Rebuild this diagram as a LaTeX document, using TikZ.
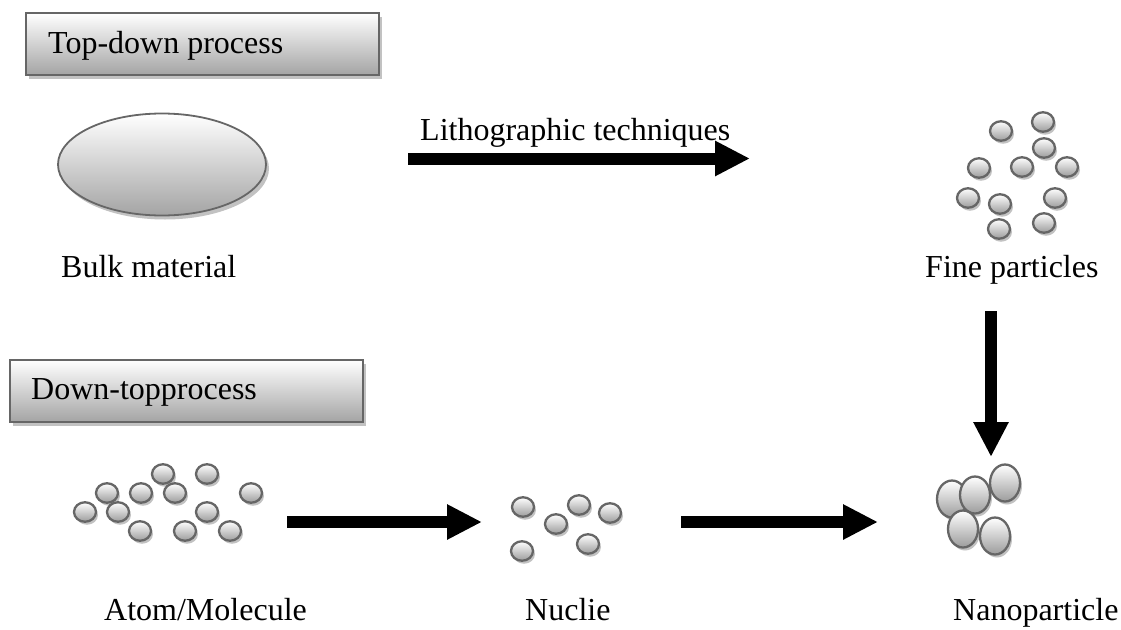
\documentclass[tikz,border=0pt]{standalone}
\usepackage{fontspec}
\setmainfont{Liberation Serif}
\usetikzlibrary{shapes.geometric,shadows,arrows.meta}
\definecolor{edgegray}{HTML}{666666}
\definecolor{shadowgray}{HTML}{C2C2C2}
\definecolor{lowgray}{HTML}{A4A4A4}
\definecolor{dotgray}{HTML}{9C9C9C}
\begin{document}
\begin{tikzpicture}[x=1pt,y=-1pt,
  lbl/.style={font=\fontsize{32}{38}\selectfont, inner sep=0pt},
  hdrbox/.style={draw=edgegray, line width=1.8pt, top color=white, bottom color=lowgray,
    anchor=north west, inner sep=0pt, minimum width=353pt, minimum height=62pt,
    drop shadow={shadow xshift=3pt, shadow yshift=-4pt, fill=shadowgray, opacity=1}},
  bulkshape/.style={ellipse, draw=edgegray, line width=1.8pt, top color=white, bottom color=lowgray,
    minimum width=208pt, minimum height=102pt, inner sep=0pt,
    drop shadow={shadow xshift=3pt, shadow yshift=-4pt, fill=shadowgray, opacity=1}},
  dot/.style={ellipse, draw=edgegray, line width=2.3pt, top color=white, bottom color=dotgray,
    minimum width=22pt, minimum height=19.5pt, inner sep=0pt,
    drop shadow={shadow xshift=2pt, shadow yshift=-3pt, fill=shadowgray, opacity=1}},
  bigdot/.style={dot, minimum width=30pt, minimum height=37pt},
  flow/.style={line width=12pt, -{Triangle[width=33pt,length=35pt]}}
]
\useasboundingbox (0,0) rectangle (1121,629);

% section headers
\node[hdrbox] (tdbox) at (25,12) {};
\node[lbl, anchor=base west] (tdtext) at (48,53) {Top-down process};
\node[hdrbox] (dtbox) at (9,359) {};
\node[lbl, anchor=base west] (dttext) at (31,399) {Down-topprocess};

% bulk material
\node[bulkshape] (bulk) at (162,164.5) {};
\node[lbl, anchor=base west] (bulklbl) at (61,277) {Bulk material};

% fine particles
\foreach \x/\y [count=\i] in {1001/131, 1043/122, 1044/148, 979/168, 1022/167, 1067/167,
    968/198, 1000/204, 1055/198, 999/229, 1044/223}
  \node[dot] (fine\i) at (\x,\y) {};
\node[lbl, anchor=base west] (finelbl) at (925,277) {Fine particles};

% lithographic step
\coordinate (litS) at (408,158.5);
\coordinate (litE) at (750,158.5);
\draw[flow] (litS) -- (litE);
\node[lbl, anchor=base west] (littext) at (420,140) {Lithographic techniques};

% fine particles to nanoparticle
\coordinate (downS) at (991,311);
\coordinate (downE) at (991,457);
\draw[flow] (downS) -- (downE);

% atoms / molecules
\foreach \x/\y [count=\i] in {163/474, 207/474, 107/493, 141/493, 175/493, 251/493,
    85/512, 118/512, 207/512, 140/531, 185/531, 230/531}
  \node[dot] (atom\i) at (\x,\y) {};
\node[lbl, anchor=base west] (atomlbl) at (104,620) {Atom/Molecule};

% nuclei
\foreach \x/\y [count=\i] in {523/507, 579/505, 610/513, 556/524, 588/544, 522/551}
  \node[dot] (nuc\i) at (\x,\y) {};
\node[lbl, anchor=base west] (nuclbl) at (525,620) {Nuclie};

% nanoparticle
\node[bigdot] (nano1) at (952,499) {};
\node[bigdot] (nano2) at (975,495) {};
\node[bigdot] (nano3) at (1005,483) {};
\node[bigdot] (nano4) at (963,529) {};
\node[bigdot] (nano5) at (995,536) {};
\node[lbl, anchor=base west] (nanolbl) at (953,620) {Nanoparticle};

% bottom-up steps
\coordinate (stepAS) at (287,522);
\coordinate (stepAE) at (482,522);
\draw[flow] (stepAS) -- (stepAE);
\coordinate (stepBS) at (681,522);
\coordinate (stepBE) at (878,522);
\draw[flow] (stepBS) -- (stepBE);
\end{tikzpicture}
\end{document}
